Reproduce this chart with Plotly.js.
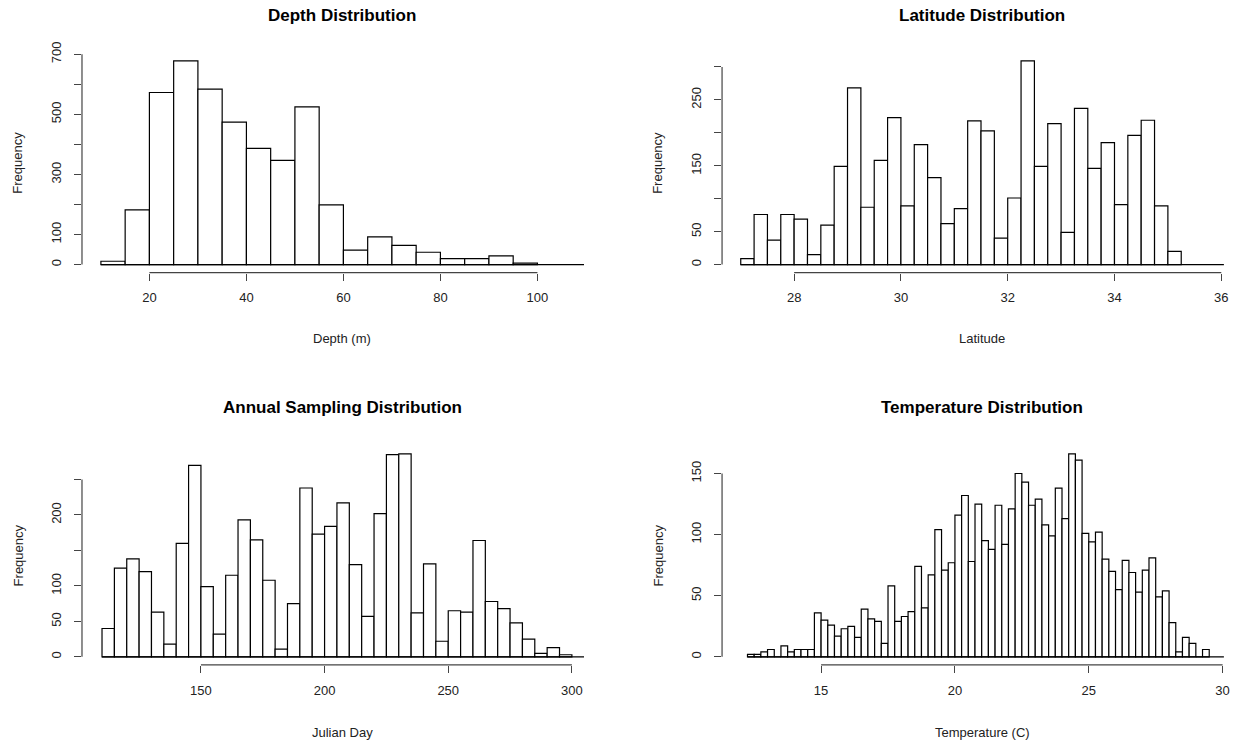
<!DOCTYPE html>
<html><head><meta charset="utf-8">
<script src="https://cdn.plot.ly/plotly-3.0.1.min.js"></script>
<style>body{margin:0;background:#fff}#c{width:1246px;height:748px}</style>
</head><body><div id="c"></div>
<script>
// Depth (m), bins of 5 starting at 10
const depthStart = 10, depthWidth = 5;
const depthCounts = [11,182,573,678,584,474,387,347,525,199,48,92,64,41,20,20,29,5];
// Latitude, bins of 0.25 starting at 27
const latStart = 27, latWidth = 0.25;
const latCounts = [9,76,37,76,69,15,60,149,268,87,158,223,89,182,132,62,85,218,203,40,101,309,149,214,49,237,146,185,91,196,219,89,20];
// Julian day, bins of 5 starting at 110
const dayStart = 110, dayWidth = 5;
const dayCounts = [40,125,138,120,63,18,160,270,99,32,115,193,165,108,11,75,238,173,184,217,130,57,202,285,286,62,131,22,65,63,164,78,68,48,25,5,13,3];
// Temperature (C), bins of 0.25 starting at 12.25
const tempStart = 12.25, tempWidth = 0.25;
const tempCounts = [2,2,4,6,0,9,4,6,6,6,
  36,30,26,17,23,25,16,39,31,29,11,58,29,33,37,74,40,67,104,71,77,116,132,78,125,95,88,124,92,121,150,143,124,129,108,99,138,113,166,161,101,94,102,80,70,55,79,69,53,71,81,
  49,54,28,4,16,11,0,6];

const titles = ["Depth Distribution","Latitude Distribution","Annual Sampling Distribution","Temperature Distribution"];
const xTitles = ["Depth (m)","Latitude","Julian Day","Temperature (C)"];
const xTicks = [[20,40,60,80,100],[28,30,32,34,36],[150,200,250,300],[15,20,25,30]];
const yTicks = [[0,100,200,300,400,500,600,700],[0,50,100,150,200,250,300],[0,50,100,150,200,250],[0,50,100,150]];
const yTickText = [["0","100","","300","","500","","700"],["0","50","","150","","250",""],["0","50","100","","200",""],["0","50","100","150"]];

const panels = [
  {start:depthStart,w:depthWidth,c:depthCounts,xr:[6.1,109.6]},
  {start:latStart,w:latWidth,c:latCounts,xr:[26.65,36.05]},
  {start:dayStart,w:dayWidth,c:dayCounts,xr:[101.9,304.9]},
  {start:tempStart,w:tempWidth,c:tempCounts,xr:[11.3,30.05]}
];
const xDom = [[0.0658,0.4687],[0.5795,0.9823],[0.0658,0.4687],[0.5795,0.9823]];
const yDom = [[0.6354,0.9294],[0.6354,0.9294],[0.1110,0.4040],[0.1110,0.4040]];
const textCx = [342/1246,982/1246,342/1246,982/1246];
const titleY = [1-16/748,1-16/748,1-408/748,1-408/748];
const xTitleY = [1-339/748,1-339/748,1-732/748,1-732/748];
const F = "Liberation Sans, Arial, sans-serif";
const ink = "#222";

const traces = [], shapes = [], annotations = [];
const layout = {width:1246,height:748,margin:{l:0,r:0,t:0,b:0},showlegend:false,
  paper_bgcolor:"#fff",plot_bgcolor:"#fff",font:{family:F,color:ink,size:13}};

panels.forEach((p,i)=>{
  const n = i+1, xa = n===1?"x":"x"+n, ya = n===1?"y":"y"+n;
  const xs = p.c.map((_,k)=>p.start+p.w*(k+0.5));
  traces.push({type:"bar",x:xs,y:p.c,width:p.w,xaxis:xa,yaxis:ya,
    marker:{color:"#fff",line:{color:"#000",width:1.2}},hoverinfo:"x+y"});
  const M = Math.max(...p.c);
  layout["xaxis"+(n===1?"":n)] = {domain:xDom[i],range:p.xr,anchor:ya,showgrid:false,zeroline:false,
    showline:false,tickvals:xTicks[i],ticks:"outside",ticklen:7,tickcolor:"#444",
    ticklabelstandoff:6,tickfont:{family:F,size:13,color:ink}};
  layout["yaxis"+(n===1?"":n)] = {domain:yDom[i],range:[-0.04*M,1.04*M],anchor:xa,showgrid:false,zeroline:false,
    showline:false,tickvals:yTicks[i],ticktext:yTickText[i],ticks:"outside",ticklen:7,tickcolor:"#444",
    tickangle:-90,ticklabelstandoff:8,tickfont:{family:F,size:13,color:ink}};
  const xt = xTicks[i], yt = yTicks[i];
  shapes.push({type:"line",xref:xa,yref:ya+" domain",x0:xt[0],x1:xt[xt.length-1],y0:0,y1:0,line:{color:"#444",width:1.2}});
  shapes.push({type:"line",xref:xa+" domain",yref:ya,x0:0,x1:0,y0:yt[0],y1:yt[yt.length-1],line:{color:"#444",width:1.2}});
  shapes.push({type:"line",xref:xa,yref:ya,x0:p.start,x1:p.xr[1],y0:0,y1:0,line:{color:"#000",width:1.2}});
  const top = yDom[i][1], bot = yDom[i][0];
  annotations.push({xref:"paper",yref:"paper",x:textCx[i],y:titleY[i],xanchor:"center",yanchor:"middle",text:"<b>"+titles[i]+"</b>",showarrow:false,font:{family:F,size:17,color:"#000"}});
  annotations.push({xref:"paper",yref:"paper",x:textCx[i],y:xTitleY[i],xanchor:"center",yanchor:"middle",text:xTitles[i],showarrow:false,font:{family:F,size:13,color:ink}});
  annotations.push({xref:"paper",yref:"paper",x:xDom[i][0]-64/1246,xanchor:"center",yanchor:"middle",y:(top+bot)/2,text:"Frequency",textangle:-90,showarrow:false,font:{family:F,size:13,color:ink}});
});
layout.shapes = shapes; layout.annotations = annotations;
Plotly.newPlot("c",traces,layout,{displayModeBar:false,staticPlot:true});
</script></body></html>
